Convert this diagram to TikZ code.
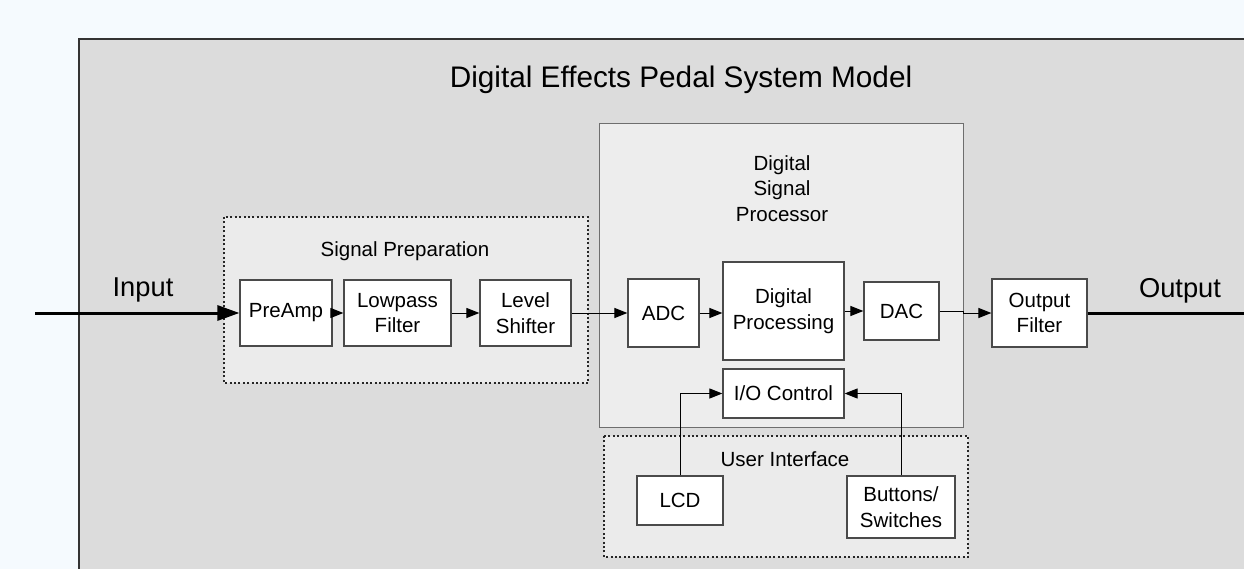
\documentclass[tikz,border=0pt]{standalone}
\usepackage{fontspec}
\setmainfont{Liberation Sans}
\usetikzlibrary{arrows.meta}
\definecolor{pagebg}{HTML}{F5FAFE}
\definecolor{outerfill}{HTML}{DCDCDC}
\definecolor{innerfill}{HTML}{EBEBEB}
\definecolor{dspfill}{HTML}{EDEDED}
\definecolor{edge}{HTML}{4A4A4A}
\begin{document}
\begin{tikzpicture}[x=1pt,y=-1pt,
  blk/.style={draw=edge,line width=1.2pt,fill=white,inner sep=0pt,align=center,
    font=\fontsize{20.5}{25.5}\selectfont},
  lbl/.style={inner sep=0pt,align=center,font=\fontsize{20.5}{25.5}\selectfont},
  biglbl/.style={inner sep=0pt,font=\fontsize{27.3}{32}\selectfont},
  grp/.style={draw=black!85,line width=1.6pt,dash pattern=on 2pt off 2.4pt,fill=innerfill},
  conn/.style={draw=black,line width=1pt,-{Triangle[length=13pt,width=10pt]}},
  bigconn/.style={draw=black,line width=3pt,-{Triangle[length=22pt,width=15pt]}},
  thickline/.style={draw=black,line width=3pt}]
\useasboundingbox (0,0) rectangle (1244,569);
\clip (0,0) rectangle (1244,569);
\fill[pagebg] (0,0) rectangle (1244,569);
% outer frame
\draw[draw=black!80,line width=2pt,fill=outerfill] (79,39) rectangle (1300,640);
\node[inner sep=0pt,font=\fontsize{29.75}{34}\selectfont] (title) at (681,80) {Digital Effects Pedal System Model};
% groups
\draw[grp] (224,217) rectangle (588,383);
\node[lbl] (sp) at (405,251) {Signal Preparation};
\draw[draw=edge!80,line width=1pt,fill=dspfill] (599,124) rectangle (963,427);
\node[lbl] (dsp) at (782,188.5) {Digital\\Signal\\Processor};
\draw[grp] (604,436) rectangle (968,557);
\node[lbl] (ui) at (785,459) {User Interface};
% blocks
\node[blk,minimum width=92,minimum height=66] (pre) at (286,313) {\raisebox{-2pt}{PreAmp}};
\node[blk,minimum width=107,minimum height=66] (lp) at (397.5,313) {Lowpass\\Filter};
\node[blk,minimum width=91,minimum height=66] (ls) at (525.5,313) {Level\\Shifter};
\node[blk,minimum width=71,minimum height=68] (adc) at (663.5,313) {ADC};
\node[blk,minimum width=121,minimum height=98] (dp) at (783.5,311) {Digital\\Processing};
\node[blk,minimum width=75,minimum height=58] (dac) at (901.5,311) {DAC};
\node[blk,minimum width=95,minimum height=68] (outf) at (1039.5,313) {Output\\Filter};
\node[blk,minimum width=121,minimum height=49] (io) at (783.5,393.5) {I/O Control};
\node[blk,minimum width=86,minimum height=49] (lcd) at (680,500.5) {LCD};
\node[blk,minimum width=108,minimum height=62] (btn) at (901,507) {Buttons/\\Switches};
% labels
\node[biglbl] (inlbl) at (143,290) {Input};
\node[biglbl] (outlbl) at (1180,291) {Output};
\coordinate (in) at (35,313);
\coordinate (outend) at (1250,313);
% connectors
\draw[bigconn] (in) -- (pre.west);
\draw[conn] (pre.east) -- (lp.west);
\draw[conn] (lp.east) -- (ls.west);
\draw[conn] (ls.east) -- (adc.west);
\draw[conn] (adc.east) -- (dp.west |- adc.east);
\draw[conn] (dp.east) -- (dac.west);
\draw[conn] (dac.east) -- ++(24,0) |- (outf.west);
\draw[thickline] (outf.east) -- (outend);
\draw[conn] (lcd.north) |- (io.west);
\draw[conn] (btn.north) |- (io.east);
\end{tikzpicture}
\end{document}
